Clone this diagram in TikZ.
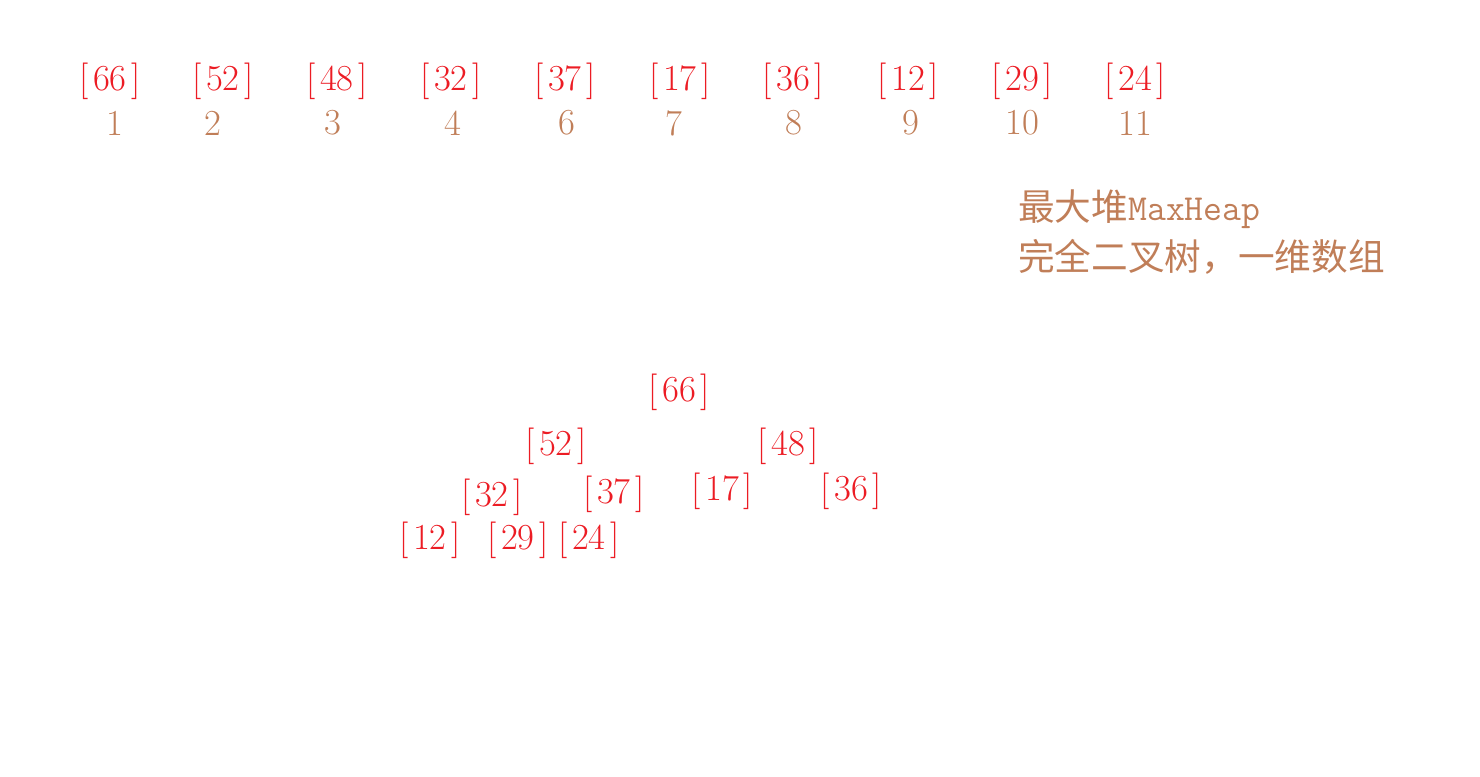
\documentclass[tikz,border=0pt]{standalone}
\usepackage{fontspec}
\usepackage{xcolor}
\usepackage{tikz}
\usetikzlibrary{positioning}
\newfontfamily\cjk{Noto Sans CJK SC}
\definecolor{heapred}{RGB}{236,28,36}
\definecolor{idxbrown}{RGB}{192,126,88}
\newcommand{\hkey}[1]{[\kern3.5pt#1\kern3.5pt]}

\begin{document}
\begin{tikzpicture}[x=0.75pt, y=-0.75pt,
    every node/.style={font=\fontsize{27.5}{32}\selectfont, inner sep=0pt},
    key/.style={text=heapred},
    idx/.style={text=idxbrown},
    note/.style={text=idxbrown, anchor=west}]
    \useasboundingbox (0,0) rectangle (1480,776);

    % Array
    \node[key] (a1) at (110,81) {\hkey{66}};
    \node[key] (a2) at (223,81) {\hkey{52}};
    \node[key] (a3) at (337,81) {\hkey{48}};
    \node[key] (a4) at (451,81) {\hkey{32}};
    \node[key] (a6) at (565,81) {\hkey{37}};
    \node[key] (a7) at (680,81) {\hkey{17}};
    \node[key] (a8) at (793,81) {\hkey{36}};
    \node[key] (a9) at (908,81) {\hkey{12}};
    \node[key] (a10) at (1022,81) {\hkey{29}};
    \node[key] (a11) at (1135,81) {\hkey{24}};

    % Indices
    \node[idx] (i1) at (115,123) {1};
    \node[idx] (i2) at (213,123) {2};
    \node[idx] (i3) at (333,123) {3};
    \node[idx] (i4) at (453,123) {4};
    \node[idx] (i6) at (567,123) {6};
    \node[idx] (i7) at (674,123) {7};
    \node[idx] (i8) at (794,123) {8};
    \node[idx] (i9) at (911,123) {9};
    \node[idx] (i10) at (1022,123) {10};
    \node[idx] (i11) at (1135,123) {11};

    % Note
    \node[note] (title) at (1018,209) {{\cjk 最大堆}\ttfamily MaxHeap};
    \node[note] (desc) at (1018,257) {\cjk 完全二叉树，一维数组};

    % Tree
    \node[key] (t66) at (679,392) {\hkey{66}};
    \node[key] (t52) at (556,446) {\hkey{52}};
    \node[key] (t48) at (788,446) {\hkey{48}};
    \node[key] (t32) at (492,497) {\hkey{32}};
    \node[key] (t37) at (614,494) {\hkey{37}};
    \node[key] (t17) at (722,491) {\hkey{17}};
    \node[key] (t36) at (851,491) {\hkey{36}};
    \node[key] (t12) at (430,540) {\hkey{12}};
    \node[key] (t29) at (518,540) {\hkey{29}};
    \node[key] (t24) at (589,540) {\hkey{24}};
\end{tikzpicture}
\end{document}
